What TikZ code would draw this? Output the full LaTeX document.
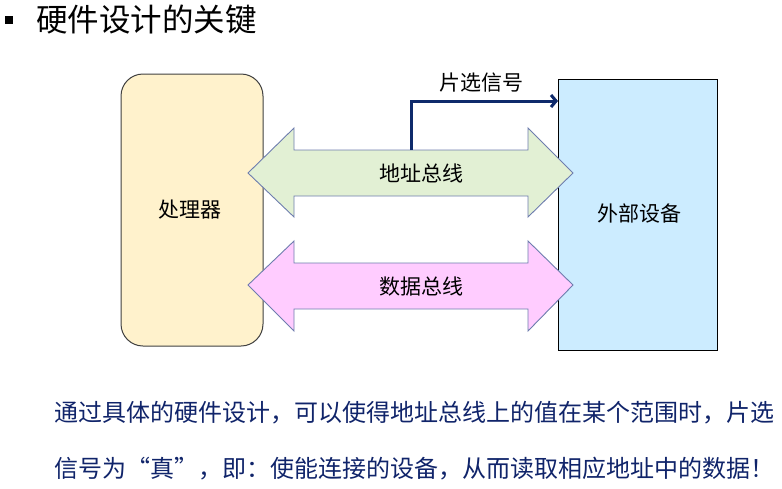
\documentclass[tikz,border=0pt]{standalone}
\usepackage{fontspec}
\setmainfont{Noto Sans CJK SC}
\usetikzlibrary{arrows.meta}
\definecolor{procfill}{HTML}{FFF2CC}
\definecolor{devfill}{HTML}{CCECFF}
\definecolor{addrfill}{HTML}{E2F0D4}
\definecolor{datafill}{HTML}{FFCCFF}
\definecolor{busline}{HTML}{6E7DAE}
\definecolor{navy}{HTML}{0E2A6B}
\definecolor{textnavy}{HTML}{10246A}
\tikzset{
  procbox/.style={draw=black!75, fill=procfill, line width=1pt, rounded corners=22pt},
  devbox/.style={draw=black, fill=devfill, line width=1pt},
  busarrow/.style={draw=busline, line width=0.9pt, line join=miter},
  lbl/.style={font=\fontsize{21}{24}\selectfont, inner sep=0pt},
  bodytext/.style={font=\fontsize{24}{28}\selectfont, text=textnavy, inner sep=0pt, anchor=west},
  selarrow/.style={draw=navy, line width=3pt, -{Straight Barb[length=5pt,width=12pt]}}
}
\begin{document}
\begin{tikzpicture}[x=1pt,y=-1pt]
\useasboundingbox (0,0) rectangle (782,488);
% title
\fill (5,16) rectangle (13,24);
\node[anchor=west, inner sep=0pt, font=\fontsize{31.5}{34}\selectfont] (title) at (36,20) {硬件设计的关键};
% processor
\draw[procbox] (121,74) rectangle (263,346);
\node[lbl] (proc) at (190,210) {处理器};
% device
\draw[devbox] (558,79) rectangle (717,350);
\node[lbl] (dev) at (639,214) {外部设备};
\coordinate (devsel) at (558,101);
% address bus
\draw[busarrow, fill=addrfill] (248,173) -- (294,128) -- (294,150) -- (528,150) -- (528,128)
  -- (573,173) -- (528,217) -- (528,196) -- (294,196) -- (294,217) -- cycle;
\node[lbl] (addr) at (421,173) {地址总线};
\coordinate (addrtop) at (411,150);
% data bus
\draw[busarrow, fill=datafill] (248,285) -- (294,241) -- (294,263) -- (528,263) -- (528,241)
  -- (573,285) -- (528,331) -- (528,309) -- (294,309) -- (294,331) -- cycle;
\node[lbl] (data) at (421,287) {数据总线};
% chip select
\draw[selarrow] (addrtop) -- (addrtop |- devsel) -- (devsel);
\node[lbl] (sel) at (481,83) {片选信号};
% bottom text
\node[bodytext] (line1) at (54,413) {通过具体的硬件设计，可以使得地址总线上的值在某个范围时，片选};
\node[bodytext] (line2) at (54,469) {信号为\makebox[1em][r]{“}真\makebox[1em][l]{”}，即：使能连接的设备，从而读取相应地址中的数据\makebox[1em][c]{！}};
\end{tikzpicture}
\end{document}
